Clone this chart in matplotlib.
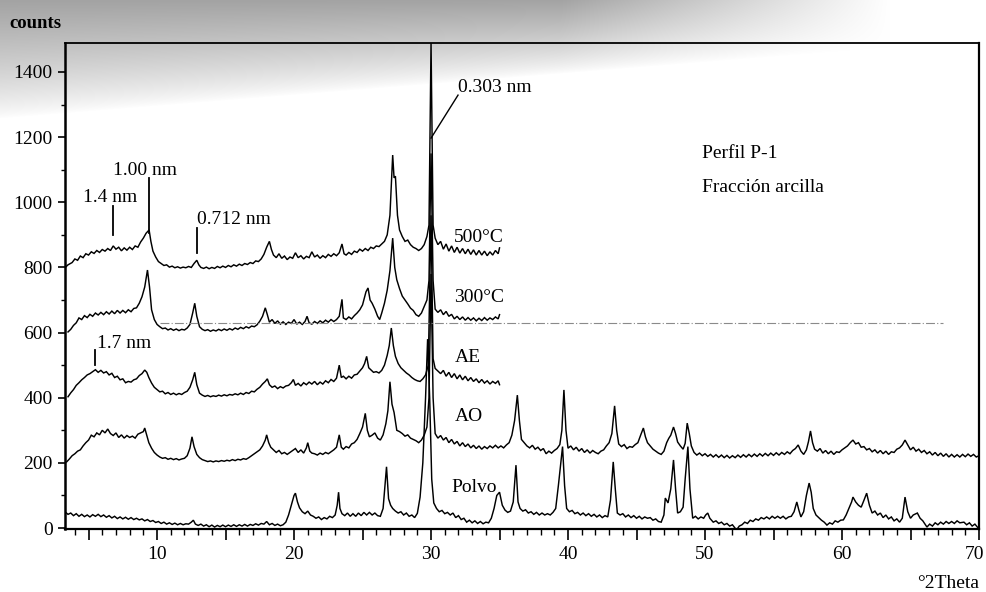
import numpy as np
import matplotlib
matplotlib.use("Agg")
import matplotlib.pyplot as plt
from matplotlib.ticker import MultipleLocator, FuncFormatter
from matplotlib.transforms import offset_copy

# ---------------- data (2theta, counts) ----------------
pattern_500 = [(3.3,800),(3.5,808),(3.8,815),(4.0,826),(4.2,822),(4.4,835),(4.6,830),(4.8,842),(5.0,838),(5.2,848),(5.4,843),(5.6,852),(5.8,846),(6.0,855),(6.2,850),(6.4,858),(6.6,852),(6.8,866),(7.0,856),(7.2,862),(7.4,851),(7.6,860),(7.8,853),(8.0,862),(8.2,855),(8.4,866),(8.6,862),(8.8,878),(9.0,890),(9.2,905),(9.42,915),(9.55,880),(9.7,850),(9.9,832),(10.1,818),(10.3,812),(10.5,806),(10.7,808),(10.9,801),(11.1,804),(11.3,799),(11.5,802),(11.7,798),(11.9,801),(12.1,799),(12.3,803),(12.5,800),(12.7,812),(12.9,822),(13.05,808),(13.2,800),(13.4,797),(13.6,801),(13.8,796),(14.0,800),(14.2,797),(14.4,803),(14.6,799),(14.8,804),(15.0,800),(15.2,806),(15.4,802),(15.6,808),(15.8,804),(16.0,810),(16.2,806),(16.4,812),(16.6,809),(16.8,815),(17.0,812),(17.2,820),(17.4,818),(17.6,826),(17.8,840),(18.0,862),(18.2,880),(18.35,855),(18.5,838),(18.7,830),(18.9,842),(19.1,828),(19.3,835),(19.5,824),(19.7,832),(19.9,828),(20.1,845),(20.3,830),(20.5,836),(20.7,826),(20.9,834),(21.1,830),(21.3,848),(21.5,832),(21.7,838),(21.9,828),(22.1,836),(22.3,830),(22.5,840),(22.7,834),(22.9,842),(23.1,836),(23.3,845),(23.5,872),(23.65,842),(23.8,838),(24.0,846),(24.2,840),(24.4,850),(24.6,846),(24.8,856),(25.0,850),(25.2,858),(25.4,852),(25.6,862),(25.8,858),(26.0,866),(26.2,864),(26.4,872),(26.6,880),(26.8,900),(27.0,960),(27.2,1145),(27.3,1075),(27.4,1080),(27.55,960),(27.7,915),(27.9,895),(28.1,880),(28.3,884),(28.5,870),(28.7,862),(28.9,858),(29.1,852),(29.3,858),(29.5,870),(29.7,895),(29.85,930),(30.0,1490),(30.15,930),(30.3,890),(30.5,870),(30.7,880),(30.9,856),(31.1,872),(31.3,850),(31.5,866),(31.7,846),(31.9,862),(32.1,844),(32.3,858),(32.5,842),(32.7,856),(32.9,840),(33.1,854),(33.3,838),(33.5,852),(33.7,838),(33.9,850),(34.1,836),(34.3,848),(34.5,838),(34.7,852),(34.9,842),(35.0,860)]

pattern_300 = [(3.5,602),(3.7,610),(3.9,622),(4.1,630),(4.3,645),(4.5,640),(4.7,652),(4.9,646),(5.1,656),(5.3,650),(5.5,660),(5.7,654),(5.9,662),(6.1,655),(6.3,664),(6.5,657),(6.7,666),(6.9,658),(7.1,668),(7.3,660),(7.5,668),(7.7,661),(7.9,670),(8.1,664),(8.3,674),(8.5,676),(8.7,690),(8.9,710),(9.1,740),(9.3,792),(9.45,740),(9.6,670),(9.8,640),(10.0,625),(10.2,618),(10.4,612),(10.6,614),(10.8,608),(11.0,612),(11.2,607),(11.4,611),(11.6,606),(11.8,610),(12.0,608),(12.2,614),(12.4,625),(12.6,660),(12.75,690),(12.9,650),(13.1,618),(13.3,610),(13.5,606),(13.7,609),(13.9,604),(14.1,608),(14.3,605),(14.5,610),(14.7,606),(14.9,611),(15.1,607),(15.3,612),(15.5,608),(15.7,614),(15.9,610),(16.1,616),(16.3,612),(16.5,618),(16.7,614),(16.9,620),(17.1,618),(17.3,624),(17.5,635),(17.7,650),(17.9,676),(18.05,655),(18.2,632),(18.4,640),(18.6,628),(18.8,636),(19.0,626),(19.2,633),(19.4,625),(19.6,632),(19.8,628),(20.0,640),(20.2,626),(20.4,632),(20.6,625),(20.8,634),(20.95,650),(21.1,630),(21.3,626),(21.5,634),(21.7,628),(21.9,636),(22.1,630),(22.3,638),(22.5,632),(22.7,640),(22.9,634),(23.1,640),(23.3,650),(23.5,702),(23.6,645),(23.8,640),(24.0,648),(24.2,642),(24.4,652),(24.6,660),(24.8,670),(25.0,685),(25.25,725),(25.4,737),(25.55,700),(25.7,690),(25.9,672),(26.1,650),(26.25,640),(26.4,660),(26.6,690),(26.8,730),(27.0,790),(27.2,890),(27.35,800),(27.5,762),(27.7,735),(27.9,712),(28.1,700),(28.3,688),(28.5,675),(28.7,668),(28.9,655),(29.1,650),(29.3,660),(29.5,680),(29.7,700),(29.85,760),(30.0,1150),(30.15,760),(30.3,672),(30.5,662),(30.7,670),(30.9,655),(31.1,665),(31.3,650),(31.5,656),(31.7,642),(31.9,650),(32.1,640),(32.3,648),(32.5,638),(32.7,646),(32.9,638),(33.1,645),(33.3,636),(33.5,644),(33.7,637),(33.9,646),(34.1,638),(34.3,645),(34.5,640),(34.7,648),(34.9,642),(35.0,655)]

pattern_ae = [(3.5,403),(3.7,415),(3.9,425),(4.1,438),(4.3,446),(4.5,455),(4.7,462),(4.9,470),(5.1,474),(5.3,480),(5.5,486),(5.7,478),(5.9,484),(6.1,476),(6.3,480),(6.5,470),(6.7,475),(6.9,462),(7.1,466),(7.3,455),(7.5,458),(7.7,446),(7.9,450),(8.1,448),(8.3,455),(8.5,458),(8.7,468),(8.9,474),(9.1,485),(9.25,478),(9.4,462),(9.6,445),(9.8,432),(10.0,425),(10.2,418),(10.4,420),(10.6,412),(10.8,416),(11.0,410),(11.2,414),(11.4,409),(11.6,413),(11.8,410),(12.0,416),(12.2,420),(12.4,432),(12.6,455),(12.75,478),(12.9,440),(13.1,414),(13.3,408),(13.5,404),(13.7,407),(13.9,403),(14.1,406),(14.3,404),(14.5,408),(14.7,405),(14.9,409),(15.1,406),(15.3,410),(15.5,408),(15.7,412),(15.9,409),(16.1,414),(16.3,410),(16.5,416),(16.7,413),(16.9,420),(17.1,418),(17.3,426),(17.5,432),(17.7,442),(17.9,450),(18.05,458),(18.2,440),(18.4,432),(18.6,436),(18.8,428),(19.0,434),(19.2,430),(19.4,436),(19.6,438),(19.8,446),(19.95,456),(20.1,438),(20.3,444),(20.5,436),(20.7,446),(20.9,440),(21.1,448),(21.3,442),(21.5,450),(21.7,440),(21.9,448),(22.1,442),(22.3,452),(22.5,446),(22.7,456),(22.9,450),(23.1,460),(23.3,500),(23.45,462),(23.6,466),(23.8,458),(24.0,466),(24.2,460),(24.4,470),(24.6,472),(24.8,482),(25.0,492),(25.15,505),(25.3,527),(25.45,492),(25.6,486),(25.8,478),(26.0,480),(26.2,476),(26.4,484),(26.6,500),(26.8,530),(26.95,560),(27.1,614),(27.25,560),(27.4,527),(27.6,505),(27.8,492),(28.0,484),(28.2,476),(28.4,470),(28.6,462),(28.8,456),(29.0,452),(29.2,450),(29.4,458),(29.6,470),(29.8,500),(30.0,960),(30.15,520),(30.3,490),(30.5,482),(30.7,474),(30.9,484),(31.1,466),(31.3,478),(31.5,462),(31.7,474),(31.9,458),(32.1,470),(32.3,455),(32.5,466),(32.7,452),(32.9,462),(33.1,450),(33.3,458),(33.5,446),(33.7,456),(33.9,445),(34.1,452),(34.3,442),(34.5,450),(34.7,444),(34.9,452),(35.0,440)]

pattern_ao = [(3.4,203),(3.6,212),(3.8,222),(4.0,228),(4.2,236),(4.4,240),(4.6,252),(4.8,262),(5.0,270),(5.2,285),(5.4,280),(5.6,292),(5.8,286),(6.0,300),(6.2,292),(6.4,304),(6.6,290),(6.8,284),(7.0,292),(7.2,278),(7.4,286),(7.6,276),(7.8,284),(8.0,278),(8.2,282),(8.4,276),(8.6,288),(8.8,292),(9.0,296),(9.1,307),(9.25,285),(9.4,262),(9.6,245),(9.8,232),(10.0,224),(10.2,218),(10.4,214),(10.6,216),(10.8,211),(11.0,214),(11.2,210),(11.4,213),(11.6,209),(11.8,212),(12.0,214),(12.2,222),(12.4,245),(12.55,280),(12.7,250),(12.9,226),(13.1,216),(13.3,210),(13.5,207),(13.7,204),(13.9,206),(14.1,203),(14.3,206),(14.5,204),(14.7,207),(14.9,205),(15.1,208),(15.3,206),(15.5,210),(15.7,207),(15.9,211),(16.1,209),(16.3,213),(16.5,211),(16.7,216),(16.9,222),(17.1,228),(17.3,234),(17.5,240),(17.7,252),(17.9,270),(18.0,286),(18.15,262),(18.3,248),(18.5,240),(18.7,232),(18.9,238),(19.1,228),(19.3,232),(19.5,226),(19.7,232),(19.9,238),(20.1,244),(20.3,232),(20.5,240),(20.7,230),(20.9,246),(21.0,262),(21.15,236),(21.3,230),(21.5,228),(21.7,224),(21.9,230),(22.1,226),(22.3,232),(22.5,228),(22.7,234),(22.9,240),(23.1,248),(23.3,286),(23.45,248),(23.6,242),(23.8,250),(24.0,246),(24.2,258),(24.4,262),(24.6,272),(24.8,290),(25.0,310),(25.2,352),(25.35,300),(25.5,280),(25.7,285),(25.9,292),(26.1,276),(26.3,270),(26.5,286),(26.7,320),(26.85,360),(27.0,449),(27.15,380),(27.3,355),(27.5,300),(27.7,296),(27.9,290),(28.1,282),(28.3,286),(28.5,276),(28.7,272),(28.9,268),(29.1,262),(29.3,270),(29.5,285),(29.7,310),(29.85,400),(30.0,780),(30.15,400),(30.3,290),(30.5,276),(30.7,284),(30.9,270),(31.1,278),(31.3,262),(31.5,272),(31.7,258),(31.9,266),(32.1,252),(32.3,262),(32.5,250),(32.7,258),(32.9,246),(33.1,254),(33.3,244),(33.5,252),(33.7,242),(33.9,250),(34.1,244),(34.3,252),(34.5,246),(34.7,254),(34.9,246),(35.1,252),(35.3,246),(35.5,255),(35.7,262),(35.9,285),(36.1,330),(36.3,408),(36.45,330),(36.6,272),(36.8,262),(37.0,252),(37.2,246),(37.4,254),(37.6,242),(37.8,248),(38.0,238),(38.2,244),(38.4,228),(38.6,236),(38.8,230),(39.0,238),(39.2,244),(39.4,256),(39.55,300),(39.7,424),(39.85,300),(40.0,245),(40.2,252),(40.4,240),(40.6,248),(40.8,236),(41.0,244),(41.2,232),(41.4,240),(41.6,230),(41.8,238),(42.0,232),(42.2,228),(42.4,236),(42.6,240),(42.8,252),(43.0,262),(43.2,290),(43.4,375),(43.55,300),(43.7,258),(43.9,250),(44.1,256),(44.3,244),(44.5,250),(44.7,248),(44.9,256),(45.1,262),(45.3,285),(45.5,307),(45.65,280),(45.8,262),(46.0,252),(46.2,242),(46.4,236),(46.6,230),(46.8,226),(47.0,236),(47.2,262),(47.35,275),(47.5,285),(47.7,310),(47.85,290),(48.0,264),(48.2,252),(48.4,242),(48.55,260),(48.7,322),(48.85,290),(49.0,252),(49.2,232),(49.4,224),(49.6,230),(49.8,222),(50.0,228),(50.2,220),(50.4,226),(50.6,218),(50.8,225),(51.0,217),(51.2,224),(51.4,216),(51.6,223),(51.8,215),(52.0,222),(52.2,216),(52.4,224),(52.6,217),(52.8,225),(53.0,218),(53.2,226),(53.4,219),(53.6,227),(53.8,220),(54.0,228),(54.2,221),(54.4,229),(54.6,222),(54.8,230),(55.0,223),(55.2,231),(55.4,224),(55.6,232),(55.8,226),(56.0,234),(56.2,228),(56.4,238),(56.6,244),(56.8,255),(57.0,236),(57.2,226),(57.4,240),(57.55,265),(57.7,298),(57.85,262),(58.0,242),(58.2,236),(58.4,244),(58.6,230),(58.8,238),(59.0,228),(59.2,236),(59.4,226),(59.6,234),(59.8,232),(60.0,240),(60.2,246),(60.4,252),(60.6,262),(60.8,270),(61.0,258),(61.2,262),(61.4,248),(61.6,250),(61.8,240),(62.0,244),(62.2,234),(62.4,240),(62.6,230),(62.8,238),(63.0,228),(63.2,236),(63.4,226),(63.6,234),(63.8,232),(64.0,242),(64.2,246),(64.4,255),(64.6,270),(64.8,255),(65.0,240),(65.2,248),(65.4,236),(65.6,242),(65.8,232),(66.0,238),(66.2,228),(66.4,234),(66.6,224),(66.8,232),(67.0,222),(67.2,230),(67.4,220),(67.6,228),(67.8,218),(68.0,226),(68.2,218),(68.4,225),(68.6,218),(68.8,226),(69.0,219),(69.2,227),(69.4,220),(69.6,226),(69.8,218),(70.0,222)]

pattern_polvo = [(3.3,49),(3.5,42),(3.7,46),(3.9,38),(4.1,44),(4.3,36),(4.5,42),(4.7,35),(4.9,40),(5.1,34),(5.3,41),(5.5,36),(5.7,42),(5.9,35),(6.1,40),(6.3,33),(6.5,38),(6.7,31),(6.9,36),(7.1,29),(7.3,34),(7.5,28),(7.7,33),(7.9,27),(8.1,32),(8.3,26),(8.5,30),(8.7,25),(8.9,28),(9.1,22),(9.3,26),(9.5,20),(9.7,23),(9.9,17),(10.1,20),(10.3,14),(10.5,18),(10.7,12),(10.9,16),(11.1,11),(11.3,15),(11.5,10),(11.7,14),(11.9,10),(12.1,13),(12.3,12),(12.5,18),(12.65,24),(12.8,12),(13.0,8),(13.2,12),(13.4,6),(13.6,10),(13.8,4),(14.0,9),(14.2,3),(14.4,8),(14.6,4),(14.8,9),(15.0,4),(15.2,9),(15.4,5),(15.6,10),(15.8,5),(16.0,10),(16.2,6),(16.4,11),(16.6,6),(16.8,11),(17.0,8),(17.2,13),(17.4,9),(17.6,14),(17.8,12),(18.0,20),(18.2,10),(18.4,14),(18.6,8),(18.8,12),(19.0,7),(19.2,10),(19.4,18),(19.6,40),(19.8,70),(20.0,100),(20.1,107),(20.25,80),(20.4,62),(20.6,50),(20.8,44),(21.0,52),(21.2,40),(21.4,36),(21.6,30),(21.8,34),(22.0,26),(22.2,32),(22.4,28),(22.6,36),(22.8,32),(23.0,40),(23.15,70),(23.25,110),(23.35,60),(23.5,44),(23.7,38),(23.9,46),(24.1,36),(24.3,44),(24.5,36),(24.7,46),(24.9,38),(25.1,48),(25.3,40),(25.5,48),(25.7,40),(25.9,46),(26.1,38),(26.3,36),(26.5,60),(26.6,110),(26.75,188),(26.9,90),(27.05,70),(27.2,60),(27.4,52),(27.6,46),(27.8,50),(28.0,40),(28.2,46),(28.4,36),(28.6,40),(28.8,32),(29.0,45),(29.2,95),(29.4,200),(29.6,400),(29.75,580),(29.9,400),(30.05,150),(30.2,77),(30.4,60),(30.6,50),(30.8,54),(31.0,44),(31.2,48),(31.4,40),(31.6,46),(31.8,32),(32.0,38),(32.2,26),(32.4,30),(32.6,18),(32.8,24),(33.0,16),(33.2,22),(33.4,14),(33.6,20),(33.8,13),(34.0,18),(34.2,16),(34.4,30),(34.6,60),(34.8,100),(35.0,110),(35.2,70),(35.4,55),(35.6,48),(35.8,52),(36.0,80),(36.2,193),(36.35,80),(36.5,60),(36.7,52),(36.9,56),(37.1,46),(37.3,50),(37.5,42),(37.7,48),(37.9,40),(38.1,46),(38.3,40),(38.5,44),(38.7,40),(38.9,48),(39.1,60),(39.3,132),(39.6,250),(39.75,130),(39.9,60),(40.1,50),(40.3,54),(40.5,44),(40.7,48),(40.9,40),(41.1,46),(41.3,38),(41.5,44),(41.7,36),(41.9,42),(42.1,34),(42.3,40),(42.5,32),(42.7,38),(42.9,34),(43.1,86),(43.3,203),(43.45,120),(43.6,46),(43.8,40),(44.0,44),(44.2,34),(44.4,40),(44.6,32),(44.8,38),(45.0,30),(45.2,36),(45.4,28),(45.6,34),(45.8,30),(46.0,32),(46.2,24),(46.4,28),(46.6,20),(46.8,18),(47.0,40),(47.1,92),(47.3,77),(47.5,120),(47.7,209),(47.85,120),(48.0,46),(48.2,50),(48.4,64),(48.55,150),(48.75,250),(48.9,120),(49.1,30),(49.3,36),(49.5,28),(49.7,34),(49.9,30),(50.05,40),(50.2,46),(50.35,30),(50.6,18),(50.8,22),(51.0,14),(51.2,18),(51.4,10),(51.6,14),(51.8,6),(52.0,10),(52.3,-6),(52.5,6),(52.7,10),(52.9,18),(53.1,14),(53.3,24),(53.5,20),(53.7,28),(53.9,24),(54.1,32),(54.3,28),(54.5,34),(54.7,28),(54.9,36),(55.1,30),(55.3,36),(55.5,30),(55.7,36),(55.9,28),(56.1,34),(56.3,36),(56.5,50),(56.7,80),(56.85,55),(57.0,34),(57.2,50),(57.4,100),(57.6,138),(57.75,110),(57.9,60),(58.1,40),(58.3,32),(58.5,24),(58.7,18),(58.9,9),(59.1,16),(59.3,12),(59.5,22),(59.7,18),(59.9,24),(60.1,25),(60.3,40),(60.5,60),(60.7,80),(60.8,95),(61.0,80),(61.2,70),(61.4,64),(61.6,85),(61.8,107),(62.0,70),(62.2,46),(62.4,52),(62.6,40),(62.8,46),(63.0,32),(63.2,40),(63.4,28),(63.6,34),(63.8,22),(64.0,28),(64.2,18),(64.4,30),(64.6,95),(64.8,50),(65.0,30),(65.2,40),(65.5,46),(65.7,30),(65.9,22),(66.2,3),(66.4,12),(66.6,6),(66.8,16),(67.0,10),(67.2,18),(67.4,12),(67.6,20),(67.8,14),(68.0,20),(68.2,14),(68.4,22),(68.6,16),(68.9,18),(69.1,10),(69.3,16),(69.5,6),(69.7,12),(69.9,2),(70.0,-6)]

curve_names = ["500°C", "300°C", "AE", "AO", "Polvo"]
name_positions = [(31.7, 893), (31.7, 709), (31.7, 525), (31.7, 341), (31.5, 123)]

# d-spacing annotations: label, label position, marker line (x, y0, y1)
peak_labels = ["1.4 nm", "1.00 nm", "0.712 nm", "1.7 nm"]
peak_label_pos = [(4.6, 1016), (6.8, 1099), (12.9, 946), (5.6, 568)]
peak_marks = [(6.76, 900, 990), (9.42, 905, 1075), (12.92, 845, 920), (5.47, 500, 547)]

x_ticks_labelled = [10, 20, 30, 40, 50, 60]
x_last_label = 70
y_ticks = [0, 200, 400, 600, 800, 1000, 1200, 1400]

# ---------------- figure ----------------
SERIF = ["Liberation Serif", "DejaVu Serif"]
plt.rcParams["font.family"] = SERIF

W, H = 986, 592
fig = plt.figure(figsize=(W / 100, H / 100), dpi=100)

# scanned paper shading at the top
bg = fig.add_axes([0, 0, 1, 1], zorder=-5)
bg.axis("off")
yy, xx = np.mgrid[0:H, 0:W].astype(float)
h = 118 - 0.08 * xx
a = np.clip(1 - yy / h, 0, 1) ** 0.8 * np.clip(1 - (xx - 560) / 330, 0, 1)
g = 1 - 0.36 * a
bg.imshow(np.dstack([g, g, g]), extent=[0, 1, 0, 1], aspect="auto", vmin=0, vmax=1)
bg.set_xlim(0, 1); bg.set_ylim(0, 1)

ax = fig.add_axes([65 / W, 1 - 529 / H, (979 - 65) / W, (529 - 43) / H])
ax.patch.set_alpha(0)
ax.set_xlim(3.28, 70)
ax.set_ylim(-3, 1489)

for data in [pattern_500, pattern_300, pattern_ae, pattern_ao, pattern_polvo]:
    xs, ys = zip(*data)
    ax.plot(xs, ys, color="black", lw=1.05, solid_joinstyle="miter")

# faint scan line
ax.plot([10.2, 67.4], [630, 630], color="#8a8a8a", lw=0.8, ls=(0, (8, 2, 1, 2)))

for name, (tx, ty) in zip(curve_names, name_positions):
    ax.text(tx, ty, name, fontsize=14, ha="left", va="center")

for lab, (tx, ty), (mx, m0, m1) in zip(peak_labels, peak_label_pos, peak_marks):
    ax.text(tx, ty, lab, fontsize=14, ha="left", va="center")
    ax.plot([mx, mx], [m0, m1], color="black", lw=1.3)

ax.text(32.0, 1351, "0.303 nm", fontsize=14, ha="left", va="center")
ax.plot([31.97, 30.0], [1329, 1197], color="black", lw=1.0)

ax.text(49.8, 1151, "Perfil P-1", fontsize=14, ha="left", va="center")
ax.text(49.8, 1044, "Fracción arcilla", fontsize=14, ha="left", va="center")

# axes styling
for side, lw in [("left", 1.8), ("bottom", 1.6), ("top", 1.3), ("right", 1.6)]:
    ax.spines[side].set_linewidth(lw)

ax.xaxis.set_major_locator(MultipleLocator(5))
ax.xaxis.set_minor_locator(MultipleLocator(1))
ax.xaxis.set_major_formatter(FuncFormatter(
    lambda v, p: f"{int(round(v))}" if int(round(v)) in x_ticks_labelled else ""))
ax.set_yticks(y_ticks)
ax.yaxis.set_minor_locator(MultipleLocator(100))
ax.tick_params(axis="both", which="major", labelsize=14, direction="out", width=1.2)
ax.tick_params(axis="x", which="major", length=8, pad=4)
ax.tick_params(axis="x", which="minor", length=4, width=1.0)
ax.tick_params(axis="y", which="major", length=5, pad=4)
ax.tick_params(axis="y", which="minor", length=3, width=1.0)

# last x label sits just inside the figure edge, as in the scan
ax.text(x_last_label, 0, f"{x_last_label}", fontsize=14, ha="center", va="top",
        transform=offset_copy(ax.get_xaxis_transform(), fig=fig, x=-4, y=-17, units="dots"),
        clip_on=False)

fig.text(917 / W, 1 - 583 / H, "°2Theta", fontsize=14, ha="left", va="center")
fig.text(9 / W, 1 - 23 / H, "counts", fontsize=13.5, fontweight="bold", ha="left", va="center")

fig.savefig("out.png", dpi=100)
